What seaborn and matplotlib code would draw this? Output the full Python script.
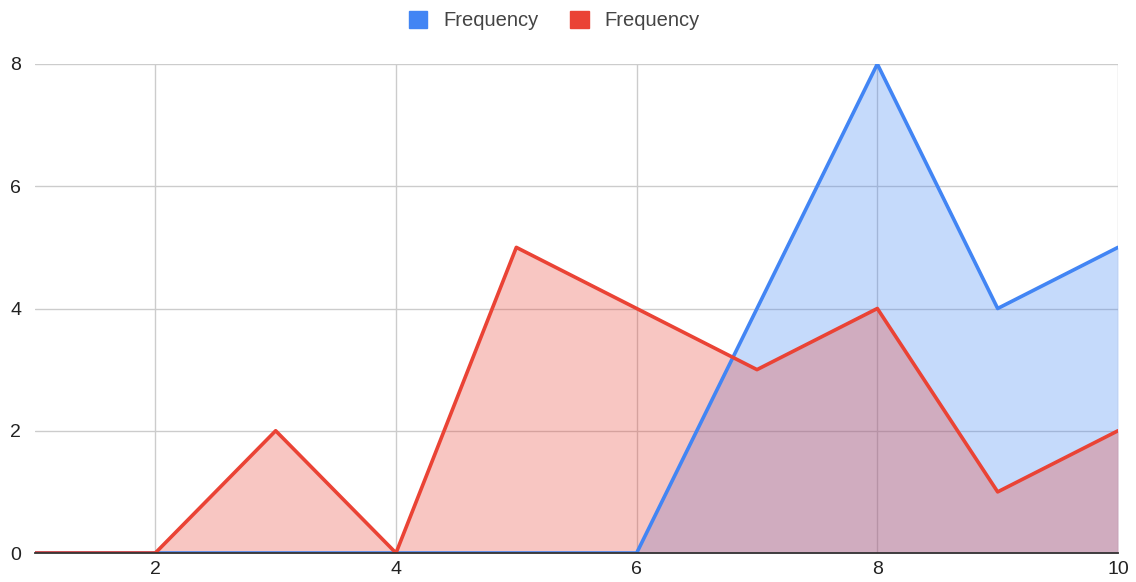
import matplotlib
matplotlib.use("Agg")
import matplotlib.pyplot as plt
import seaborn as sns
import pandas as pd
from matplotlib.patches import Patch

x_values = [1, 2, 3, 4, 5, 6, 7, 8, 9, 10]
blue_freq = [0, 0, 0, 0, 0, 0, 4, 8, 4, 5]
red_freq = [0, 0, 2, 0, 5, 4, 3, 4, 1, 2]
series_names = ["Frequency", "Frequency"]
x_ticks = [2, 4, 6, 8, 10]
y_ticks = [0, 2, 4, 6, 8]

BLUE = "#4285F4"
RED = "#EA4335"

sns.set_theme(style="white")
plt.rcParams["font.family"] = ["Liberation Sans", "DejaVu Sans"]

df = pd.DataFrame({"x": x_values, "blue": blue_freq, "red": red_freq})

fig = plt.figure(figsize=(11.36, 5.82), dpi=100)
ax = fig.add_axes([35 / 1136, 1 - 553 / 582, (1118 - 35) / 1136, (553 - 64) / 582])

ax.fill_between(df["x"], 0, df["blue"], color=BLUE, alpha=0.3, linewidth=0, zorder=2)
ax.fill_between(df["x"], 0, df["red"], color=RED, alpha=0.3, linewidth=0, zorder=2)
sns.lineplot(data=df, x="x", y="blue", color=BLUE, linewidth=2.6, ax=ax, zorder=4)
sns.lineplot(data=df, x="x", y="red", color=RED, linewidth=2.6, ax=ax, zorder=5)

ax.set_xlim(1, 10)
ax.set_ylim(0, 8)
ax.set_xticks(x_ticks)
ax.set_yticks(y_ticks)
ax.set_xlabel("")
ax.set_ylabel("")
ax.grid(True, color="#cccccc", linewidth=1)
ax.set_axisbelow(True)
for side in ["top", "right", "left"]:
    ax.spines[side].set_visible(False)
ax.spines["bottom"].set_color("#333333")
ax.spines["bottom"].set_linewidth(1.3)
ax.spines["bottom"].set_zorder(6)
ax.tick_params(axis="both", length=0, labelsize=14, colors="#222222")
ax.tick_params(axis="x", pad=6)
ax.tick_params(axis="y", pad=10)

handles = [Patch(facecolor=BLUE, edgecolor=BLUE), Patch(facecolor=RED, edgecolor=RED)]
fig.legend(handles, series_names, loc="upper center", bbox_to_anchor=(0.488, 1.012),
           ncol=2, frameon=False, fontsize=14.5, handlelength=0.9, handleheight=0.9,
           columnspacing=1.6, handletextpad=0.8, labelcolor="#444444")

fig.savefig("out.png", dpi=100, facecolor="white")
